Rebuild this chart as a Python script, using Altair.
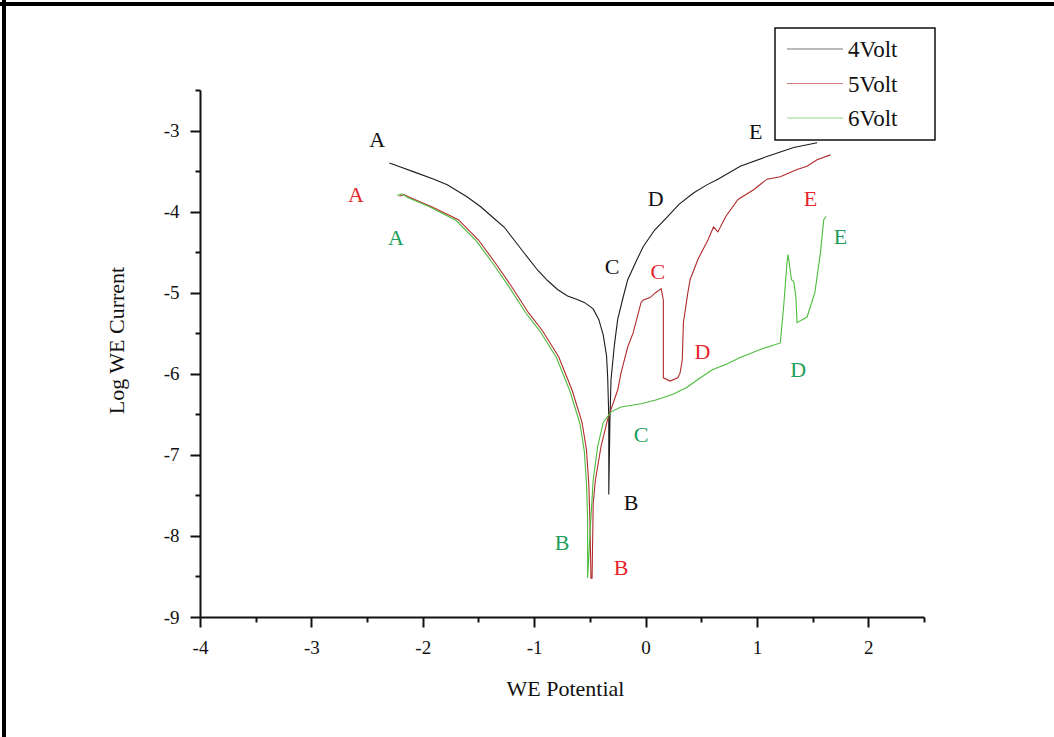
import altair as alt
import pandas as pd

# ---------------- data ----------------
series_names = ["4Volt", "5Volt", "6Volt"]
line_colors = ["#1c1c1c", "#b02a2c", "#4cbc3c"]
letter_colors = ["#111111", "#e5262b", "#1e9e5a"]

x_4v = [-2.30, -2.20, -2.08, -1.90, -1.78, -1.60, -1.48, -1.38, -1.27, -1.18, -1.09, -0.97,
        -0.88, -0.79, -0.70, -0.62, -0.55, -0.47, -0.42, -0.38, -0.35, -0.34, -0.33, -0.33,
        -0.32, -0.31, -0.28, -0.25, -0.20, -0.16, -0.08, -0.02, 0.08, 0.20, 0.30, 0.43,
        0.55, 0.65, 0.85, 1.09, 1.33, 1.54]
y_4v = [-3.40, -3.45, -3.51, -3.60, -3.67, -3.82, -3.94, -4.06, -4.19, -4.35, -4.51, -4.72,
        -4.85, -4.96, -5.04, -5.08, -5.12, -5.20, -5.33, -5.52, -5.78, -6.04, -6.53, -7.49,
        -6.60, -6.07, -5.65, -5.33, -5.05, -4.84, -4.60, -4.43, -4.23, -4.06, -3.91, -3.77,
        -3.67, -3.60, -3.44, -3.32, -3.21, -3.15]

x_5v = [-2.21, -2.17, -2.11, -1.92, -1.68, -1.50, -1.35, -1.20, -1.05, -0.93, -0.78,
        -0.66, -0.57, -0.53, -0.51, -0.50, -0.49, -0.48, -0.47, -0.45, -0.40, -0.34,
        -0.31, -0.25, -0.22, -0.16, -0.11, -0.04, -0.02, 0.04, 0.09, 0.14, 0.16, 0.16,
        0.22, 0.29, 0.31, 0.33, 0.34, 0.38, 0.40, 0.47, 0.56, 0.61, 0.65, 0.72, 0.83,
        0.97, 1.09, 1.21, 1.36, 1.45, 1.54, 1.66]
y_5v = [-3.81, -3.79, -3.83, -3.94, -4.10, -4.35, -4.63, -4.93, -5.25, -5.46, -5.79,
        -6.20, -6.60, -6.94, -7.35, -7.77, -8.52, -8.52, -7.60, -7.31, -6.90, -6.56,
        -6.44, -6.20, -5.99, -5.67, -5.49, -5.12, -5.09, -5.06, -5.00, -4.95, -5.09, -6.05,
        -6.09, -6.05, -5.99, -5.83, -5.37, -5.00, -4.84, -4.59, -4.35, -4.19, -4.25, -4.06, -3.85,
        -3.73, -3.60, -3.57, -3.48, -3.44, -3.36, -3.30]

x_6v = [-2.23, -2.19, -2.13, -1.94, -1.70, -1.52, -1.37, -1.22, -1.07, -0.95, -0.80,
        -0.68, -0.59, -0.55, -0.53, -0.52, -0.52, -0.50, -0.47, -0.43, -0.38, -0.31,
        -0.22, -0.04, 0.10, 0.25, 0.37, 0.47, 0.60, 0.73, 0.85, 1.03, 1.21, 1.24, 1.27,
        1.28, 1.31, 1.33, 1.35, 1.36, 1.45, 1.52, 1.57, 1.60, 1.62]
y_6v = [-3.80, -3.78, -3.83, -3.94, -4.11, -4.36, -4.64, -4.94, -5.26, -5.47, -5.80,
        -6.21, -6.61, -6.95, -7.36, -7.78, -8.52, -8.00, -7.31, -6.90, -6.60, -6.47,
        -6.41, -6.37, -6.32, -6.25, -6.17, -6.07, -5.95, -5.88, -5.80, -5.70, -5.62, -5.17, -4.63,
        -4.53, -4.84, -4.86, -5.05, -5.37, -5.30, -5.00, -4.51, -4.10, -4.06]

letters = ["A", "B", "C", "D", "E"]
lab4_x = [-2.41, -0.13, -0.30, 0.09, 0.99]
lab4_y = [-3.12, -7.60, -4.68, -3.84, -3.02]
lab5_x = [-2.60, -0.22, 0.11, 0.51, 1.48]
lab5_y = [-3.80, -8.40, -4.74, -5.73, -3.85]
lab6_x = [-2.24, -0.75, -0.04, 1.37, 1.75]
lab6_y = [-4.32, -8.09, -6.75, -5.95, -4.31]

x_major = [-4, -3, -2, -1, 0, 1, 2]
x_minor = [-3.5, -2.5, -1.5, -0.5, 0.5, 1.5, 2.5]
y_major = [-9, -8, -7, -6, -5, -4, -3]
y_minor = [-8.5, -7.5, -6.5, -5.5, -4.5, -3.5, -2.5]

# ---------------- tables ----------------
rows = []
for name, xs, ys in zip(series_names, [x_4v, x_5v, x_6v], [y_4v, y_5v, y_6v]):
    for i, (a, b) in enumerate(zip(xs, ys)):
        rows.append({"series": name, "x": a, "y": b, "i": i})
df = pd.DataFrame(rows)

lrows = []
for name, xs, ys in zip(series_names, [lab4_x, lab5_x, lab6_x], [lab4_y, lab5_y, lab6_y]):
    for l, a, b in zip(letters, xs, ys):
        lrows.append({"series": name, "letter": l, "x": a, "y": b})
dfl = pd.DataFrame(lrows)

FONT = "Liberation Serif"
W, H = 724, 527

minor_test = "abs(datum.value - round(datum.value)) > 0.01"
label_expr = ("abs(datum.value - round(datum.value)) > 0.01 ? '' : "
              "(datum.value < 0 ? '-' + abs(datum.value) : '' + datum.value)")

xscale = alt.Scale(domain=[-4, 2.5], nice=False, zero=False)
yscale = alt.Scale(domain=[-9, -2.5], nice=False, zero=False)

xaxis = alt.Axis(
    values=sorted(x_major + x_minor), labelExpr=label_expr, grid=False,
    title="WE Potential", titleFont=FONT, titleFontSize=22, titleFontWeight="normal",
    titleColor="#111", titleX=365, titleY=71, titleBaseline="middle",
    labelFont=FONT, labelFontSize=19, labelColor="#111", labelPadding=11,
    domainColor="#111", domainWidth=2, tickColor="#111", tickWidth=2,
    tickSize={"condition": {"test": minor_test, "value": 5}, "value": 10},
    labelFlush=False, labelOverlap=False,
)
yaxis = alt.Axis(
    values=sorted(y_major + y_minor), labelExpr=label_expr, grid=False,
    title="Log WE Current", titleFont=FONT, titleFontSize=22, titleFontWeight="normal",
    titleColor="#111", titleX=-72, titleY=250, titleAngle=270, titleBaseline="bottom",
    titleAlign="center",
    labelFont=FONT, labelFontSize=19, labelColor="#111", labelPadding=11,
    domainColor="#111", domainWidth=2, tickColor="#111", tickWidth=2,
    tickSize={"condition": {"test": minor_test, "value": 5}, "value": 10},
    labelFlush=False, labelOverlap=False,
)

lines = alt.Chart(df).mark_line(strokeWidth=1.1, interpolate="linear").encode(
    x=alt.X("x:Q", scale=xscale, axis=xaxis),
    y=alt.Y("y:Q", scale=yscale, axis=yaxis),
    color=alt.Color("series:N", scale=alt.Scale(domain=series_names, range=line_colors), legend=None),
    order="i:Q",
)

texts = alt.Chart(dfl).mark_text(font=FONT, fontSize=22, align="center", baseline="middle").encode(
    x="x:Q", y="y:Q", text="letter:N",
    color=alt.Color("series:N", scale=alt.Scale(domain=series_names, range=letter_colors), legend=None),
)

# ---------------- manual legend (pixel placement) ----------------
one = pd.DataFrame({"k": [0]})
legend_layers = [
    alt.Chart(one).mark_rect(fill="white", stroke="#111", strokeWidth=1.5).encode(
        x=alt.value(575), x2=alt.value(735), y=alt.value(-62), y2=alt.value(50)),
]
for idx, name in enumerate(series_names):
    yy = -41 + idx * 34.5
    legend_layers.append(
        alt.Chart(one).mark_rule(color=line_colors[idx], strokeWidth=1.2, opacity=0.6).encode(
            x=alt.value(587), x2=alt.value(643), y=alt.value(yy)))
    legend_layers.append(
        alt.Chart(pd.DataFrame({"name": [name]})).mark_text(
            font=FONT, fontSize=23, align="left", baseline="middle", color="#111").encode(
            x=alt.value(648), y=alt.value(yy + 1), text="name:N"))

# ---------------- outer frame (top and left) ----------------
frame = [
    alt.Chart(one).mark_rule(color="#000", strokeWidth=4).encode(
        x=alt.value(-200), x2=alt.value(854), y=alt.value(-86)),
    alt.Chart(one).mark_rule(color="#000", strokeWidth=4).encode(
        x=alt.value(-196), y=alt.value(-90), y2=alt.value(647)),
]

chart = alt.layer(lines, texts, *legend_layers, *frame).resolve_scale(
    color="independent"
).properties(
    width=W, height=H,
    autosize=alt.AutoSizeParams(type="none"),
    padding={"left": 200, "top": 90, "right": 130, "bottom": 120},
    background="white",
).configure_view(stroke=None)

chart.save("out.html", embed_options={"renderer": "svg", "actions": False})
